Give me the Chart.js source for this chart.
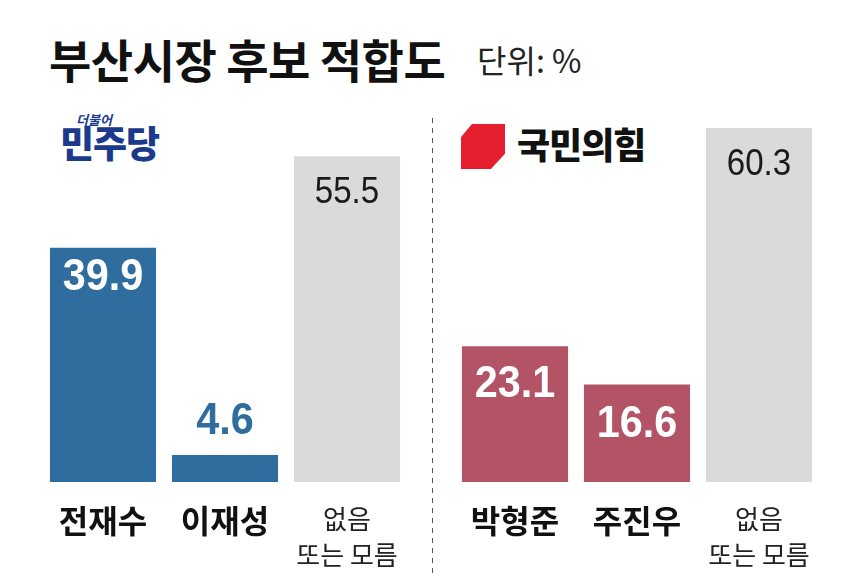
<!DOCTYPE html>
<html>
<head>
<meta charset="utf-8">
<script src="https://cdn.jsdelivr.net/npm/chart.js@4"></script>
<style>
  body { margin: 0; background: #fff; }
  #wrap { position: relative; width: 860px; height: 586px; overflow: hidden; font-family: "Noto Sans CJK KR", sans-serif; }
  .abs { position: absolute; white-space: nowrap; line-height: 1; }
  #title { left: 49px; top: 35px; font-size: 46px; font-weight: 700; color: #111; letter-spacing: -0.5px; }
  #unit { left: 477px; top: 43px; font-size: 32px; color: #222; }
  #dpSmall { left: 76px; top: 113px; font-size: 13px; font-weight: 700; color: #1b3a8c; font-style: italic; }
  #dp { left: 60px; top: 124px; font-size: 37px; font-weight: 900; color: #1b3a8c; letter-spacing: -1px; }
  #ppp { left: 517px; top: 125px; font-size: 36px; font-weight: 900; color: #111; letter-spacing: -1px; }
  #pppMark { left: 461px; top: 124px; width: 44px; height: 45px; background: #e51f2e;
    clip-path: polygon(0 29%, 25% 0, 100% 0, 100% 66%, 68% 100%, 0 100%); }
  #divider { left: 432px; top: 118px; width: 1px; height: 460px;
    background: repeating-linear-gradient(to bottom, #555 0, #555 5px, transparent 5px, transparent 10px); }
  canvas { position: absolute; top: 0; }
</style>
</head>
<body>
<div id="wrap">
  <div class="abs" id="title">부산시장 후보 적합도</div>
  <div class="abs" id="unit">단위: %</div>
  <div class="abs" id="dpSmall">더불어</div>
  <div class="abs" id="dp">민주당</div>
  <div class="abs" id="pppMark"></div>
  <div class="abs" id="ppp">국민의힘</div>
  <div class="abs" id="divider"></div>
  <div style="position:absolute;left:42px;top:0;width:366px;height:586px"><canvas id="left"></canvas></div>
  <div style="position:absolute;left:454px;top:0;width:366px;height:586px"><canvas id="right"></canvas></div>
</div>
<script>
// 민주당
let demLabels = ['전재수', '이재성', ['없음', '또는 모름']];
let demValues = [39.9, 4.6, 55.5];
let demColors = ['#2f6d9f', '#2f6d9f', '#d9dadc'];

// 국민의힘
let pppLabels = ['박형준', '주진우', ['없음', '또는 모름']];
let pppValues = [23.1, 16.6, 60.3];
let pppColors = ['#b25366', '#b25366', '#d9dadc'];

// 값 라벨: 막대 안 / 위 (offsets = 막대 윗면에서 글자 중심까지)
let valueLabels = {
    id: 'valueLabels',
    afterDatasetsDraw(chart, args, opts) {
        let ctx = chart.ctx;
        let ds = chart.data.datasets[0];
        let meta = chart.getDatasetMeta(0);
        meta.data.forEach((bar, i) => {
            let txt = ds.data[i].toFixed(1);
            let gray = ds.backgroundColor[i] === '#d9dadc';
            let barH = bar.base - bar.y;
            let off = opts.offsets[i];
            ctx.save();
            ctx.textAlign = 'center';
            ctx.textBaseline = 'middle';
            if (gray) {
                ctx.font = '36px "Liberation Sans", Arial, sans-serif';
                ctx.fillStyle = '#1a1a1a';
            } else {
                ctx.font = 'bold 45px "Liberation Sans", Arial, sans-serif';
                ctx.fillStyle = barH < 60 ? ds.backgroundColor[i] : '#ffffff';
            }
            ctx.translate(bar.x, bar.y + off);
            ctx.scale(0.92, 1);
            ctx.fillText(txt, 0, 0);
            ctx.restore();
        });
    }
};

function makeChart(id, labels, values, colors, offsets) {
    return new Chart(document.getElementById(id), {
        type: 'bar',
        data: {
            labels: labels,
            datasets: [{
                data: values,
                backgroundColor: colors,
                borderWidth: 0,
                barPercentage: 1,
                categoryPercentage: 0.87
            }]
        },
        options: {
            responsive: true,
            maintainAspectRatio: false,
            animation: false,
            layout: { padding: { top: 71, left: 0, right: 0, bottom: 0 } },
            plugins: {
                legend: { display: false },
                tooltip: { enabled: false },
                valueLabels: { offsets: offsets }
            },
            scales: {
                x: {
                    grid: { display: false, drawTicks: true, tickLength: 20 },
                    border: { display: false },
                    afterFit: function (scale) { scale.height = 104; },
                    ticks: {
                        padding: 0,
                        maxRotation: 0,
                        autoSkip: false,
                        color: function (c) { return c.index === 2 ? '#222' : '#111'; },
                        font: function (c) {
                            if (c.index === 2) return { family: '"Noto Sans CJK KR"', size: 26, weight: 'normal', lineHeight: 1.35 };
                            return { family: '"Noto Sans CJK KR"', size: 32, weight: 'bold', lineHeight: 1.2 };
                        }
                    }
                },
                y: {
                    display: false,
                    min: 0,
                    max: 70
                }
            }
        },
        plugins: [valueLabels]
    });
}

makeChart('left', demLabels, demValues, demColors, [30, -33, 37]);
makeChart('right', pppLabels, pppValues, pppColors, [38, 40, 37]);
</script>
</body>
</html>
